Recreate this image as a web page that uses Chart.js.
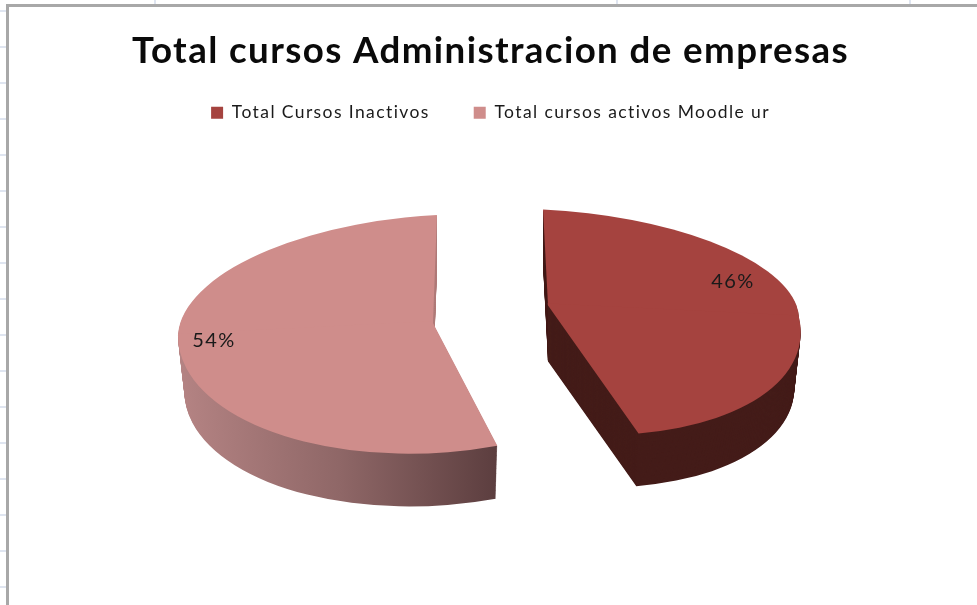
<!DOCTYPE html>
<html><head><meta charset="utf-8">
<style>html,body{margin:0;padding:0;background:#fff}canvas{display:block}</style>
<script src="https://cdn.jsdelivr.net/npm/chart.js@4"></script>
</head><body>
<canvas id="c" width="977" height="605"></canvas>
<script>
const chartTitle = 'Total cursos Administracion de empresas';
const categories = ['Total Cursos Inactivos', 'Total cursos activos Moodle ur'];
const shares = [46, 54];
const sliceColors = ['#a5433f', '#cf8d8b'];
const sliceOffsets = [58, 58];

// Styling of the fake 3D projection, one entry per slice.
const views = [
  {A:[251,12],  up:[-5,-96],  down:[-29,-129], label:[185,-24], nudge:-1.5},
  {A:[255,-13], up:[4,-108],  down:[-1,-130],  label:[-219,18], nudge:1.5}
];
const depth = 56, depthShrink = 0.025;

function drawHalf(ctx, arc, P, S, v, half, fill, s, dy, region) {
  const R = arc.outerRadius;
  const A = [v.A[0]*s, v.A[1]*s];
  const B = half === 'up' ? [v.up[0]*s, v.up[1]*s] : [v.down[0]*s, v.down[1]*s];
  const sx = S[0], sy = S[1] + dy;
  const sign = half === 'up' ? 1 : -1;
  const bias = half === 'up' ? 0 : 2;
  ctx.save();
  if (region) { ctx.beginPath(); ctx.rect(0, region[0], 977, region[1]-region[0]); ctx.clip(); }
  ctx.beginPath();
  const ox = sx, oy = sy - bias;
  ctx.moveTo(ox - A[0]*3, oy - A[1]*3);
  ctx.lineTo(ox + A[0]*3, oy + A[1]*3);
  ctx.lineTo(ox + A[0]*3 + sign*B[0]*3, oy + A[1]*3 + sign*B[1]*3);
  ctx.lineTo(ox - A[0]*3 + sign*B[0]*3, oy - A[1]*3 + sign*B[1]*3);
  ctx.closePath();
  ctx.clip();
  ctx.translate(sx, sy);
  ctx.transform(A[0]/R, A[1]/R, -B[0]/R, -B[1]/R, 0, 0);
  ctx.translate(-P[0], -P[1]);
  const clone = Object.create(arc);
  clone.options = {backgroundColor: fill, borderColor: fill, borderWidth: 0, offset: 0, spacing: 0,
    borderRadius: 0, borderAlign: 'center', circular: true, borderJoinStyle: 'round'};
  clone.draw(ctx);
  ctx.restore();
}

const pie3d = {
  id: 'pie3d',
  beforeInit(chart) { chart.ctx.letterSpacing = '1.4px'; },
  beforeLayout(chart) { chart.ctx.letterSpacing = '1.4px'; },
  beforeDraw(chart) {
    const ctx = chart.ctx;
    ctx.letterSpacing = '1.4px';
    ctx.save();
    ctx.fillStyle = '#fff';
    ctx.fillRect(0, 0, 977, 605);
    ctx.fillStyle = '#dfe5f0';
    for (let y = 11; y < 605; y += 36) ctx.fillRect(0, y-1, 6, 2);
    [155, 617, 910].forEach(x => ctx.fillRect(x-1, 0, 2, 4));
    ctx.fillStyle = '#a8a8a8';
    ctx.fillRect(6, 4, 3, 601);
    ctx.fillRect(6, 4, 971, 3);
    ctx.restore();
  },
  beforeDatasetDraw(chart, args) {
    const ctx = chart.ctx;
    const arcs = chart.getDatasetMeta(args.index).data;
    arcs.forEach((arc, i) => {
      const mid = (arc.startAngle + arc.endAngle) / 2;
      const off = sliceOffsets[i];
      const P = [arc.x, arc.y];
      const v = views[i];
      const S = [arc.x + Math.cos(mid)*off, arc.y + Math.sin(mid)*off + v.nudge];
      const R = arc.outerRadius;
      for (let d = depth; d >= 1; d--) {
        const s = 1 - depthShrink * d / depth;
        if (i === 0) {
          ['up','down'].forEach(h => drawHalf(ctx, arc, P, S, v, h, '#441c19', s, d));
        } else {
          const g = ctx.createLinearGradient(P[0]-R, 0, P[0]+R*0.25, 0);
          g.addColorStop(0, '#b48383');
          g.addColorStop(0.5, '#8f6767');
          g.addColorStop(1, '#5c3e3f');
          ['up','down'].forEach(h => {
            drawHalf(ctx, arc, P, S, v, h, '#b07c7a', s, d, [0, S[1]+4]);
            drawHalf(ctx, arc, P, S, v, h, g, s, d, [S[1]+4, 605]);
          });
        }
      }
      ['up','down'].forEach(h => drawHalf(ctx, arc, P, S, v, h, sliceColors[i], 1, 0));
      ctx.save();
      ctx.fillStyle = '#1a1a1a';
      ctx.font = '20px Lato, "Open Sans", sans-serif';
      ctx.textAlign = 'center';
      ctx.textBaseline = 'middle';
      ctx.fillText(shares[i] + '%', S[0] + v.label[0], S[1] + v.label[1]);
      ctx.restore();
    });
    return false;
  }
};

new Chart(document.getElementById('c'), {
  type: 'pie',
  data: { labels: categories, datasets: [{ data: shares, backgroundColor: sliceColors, offset: sliceOffsets, borderWidth: 0 }] },
  options: {
    responsive: false,
    animation: false,
    radius: 250,
    layout: { padding: { left: 4, right: 0, top: 0, bottom: 108 } },
    plugins: {
      title: { display: true, text: chartTitle, color: '#0a0a0a',
        font: { family: 'Lato, "Open Sans", sans-serif', size: 36.7, weight: 'bold' },
        padding: { top: 29, bottom: -13 } },
      legend: { display: true, position: 'top',
        labels: { boxWidth: 12, boxHeight: 12, padding: 44, color: '#1a1a1a',
          font: { family: 'Lato, "Open Sans", sans-serif', size: 17.5 } } },
      tooltip: { enabled: false }
    }
  },
  plugins: [pie3d]
});
</script>
</body></html>
